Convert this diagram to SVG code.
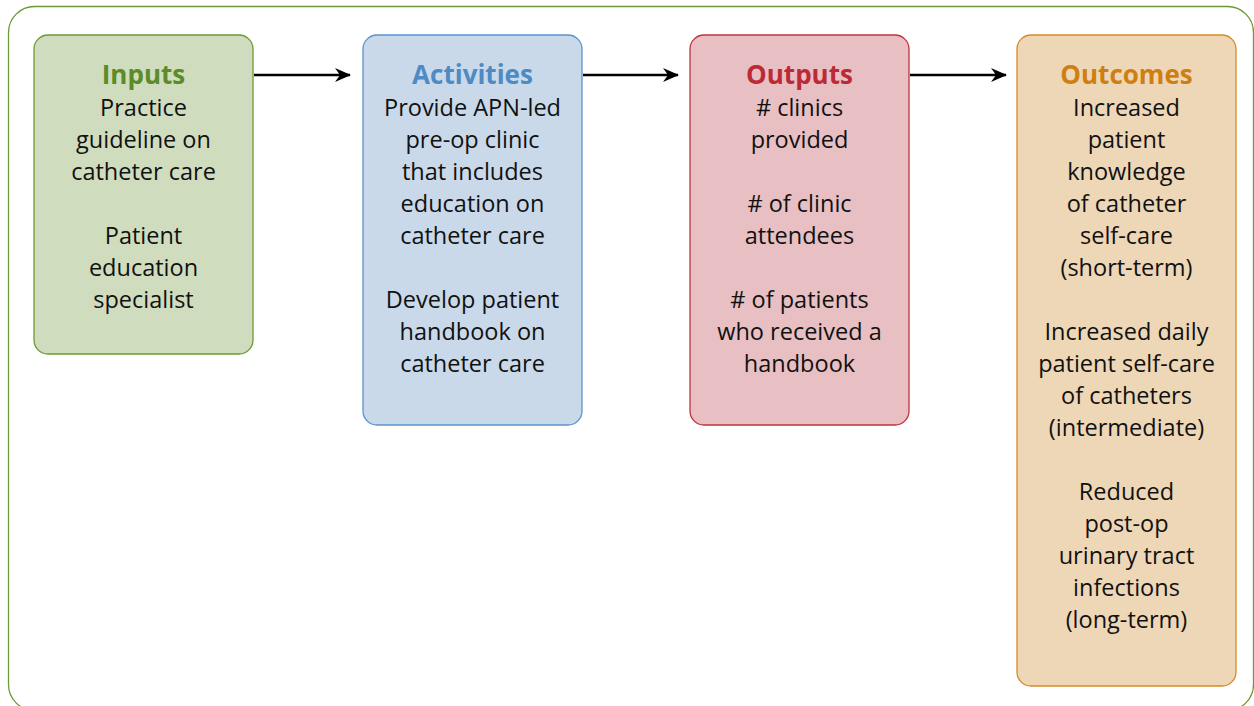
<svg xmlns="http://www.w3.org/2000/svg" width="1254" height="706" viewBox="0 0 1254 706">
<defs>
<marker id="ah" markerWidth="16" markerHeight="14" refX="15" refY="7" orient="auto" markerUnits="userSpaceOnUse">
<path d="M0,0 L16,7 L0,14 L5,7 Z" fill="#000"/>
</marker>
<style>
text{font-family:"Open Sans","Noto Sans",sans-serif;text-anchor:middle;}
.t{font-size:26px;font-weight:bold;}
.b{font-size:23.5px;fill:#111;}
.box{stroke-width:1.3;}
.conn line{stroke:#000;stroke-width:2.6;}
</style>
</defs>
<rect width="1254" height="706" fill="#fff"/>
<rect x="8.5" y="6.5" width="1245" height="704" rx="26" fill="none" stroke="#6b9a34" stroke-width="1.3"/>
<g id="inputs">
<rect class="box" x="34" y="35" width="219" height="319" rx="14" fill="#d0dcbe" stroke="#6b9a34"/>
<text class="t" x="143.5" y="84" fill="#5c8b27">Inputs</text>
<text class="b" x="143.5" y="116">Practice</text>
<text class="b" x="143.5" y="148">guideline on</text>
<text class="b" x="143.5" y="180">catheter care</text>
<text class="b" x="143.5" y="244">Patient</text>
<text class="b" x="143.5" y="276">education</text>
<text class="b" x="143.5" y="308">specialist</text>
</g>
<g id="activities">
<rect class="box" x="363" y="35" width="219" height="390" rx="14" fill="#c9d9ea" stroke="#5b93cb"/>
<text class="t" x="472.5" y="84" fill="#4e8ac3">Activities</text>
<text class="b" x="472.5" y="116">Provide APN-led</text>
<text class="b" x="472.5" y="148">pre-op clinic</text>
<text class="b" x="472.5" y="180">that includes</text>
<text class="b" x="472.5" y="212">education on</text>
<text class="b" x="472.5" y="244">catheter care</text>
<text class="b" x="472.5" y="308">Develop patient</text>
<text class="b" x="472.5" y="340">handbook on</text>
<text class="b" x="472.5" y="372">catheter care</text>
</g>
<g id="outputs">
<rect class="box" x="690" y="35" width="219" height="390" rx="14" fill="#e8bfc2" stroke="#c1323c"/>
<text class="t" x="799.5" y="84" fill="#bb2a35">Outputs</text>
<text class="b" x="799.5" y="116"># clinics</text>
<text class="b" x="799.5" y="148">provided</text>
<text class="b" x="799.5" y="212"># of clinic</text>
<text class="b" x="799.5" y="244">attendees</text>
<text class="b" x="799.5" y="308"># of patients</text>
<text class="b" x="799.5" y="340">who received a</text>
<text class="b" x="799.5" y="372">handbook</text>
</g>
<g id="outcomes">
<rect class="box" x="1017" y="35" width="219" height="651" rx="14" fill="#edd7b7" stroke="#d68a28"/>
<text class="t" x="1126.5" y="84" fill="#cf7e12">Outcomes</text>
<text class="b" x="1126.5" y="116">Increased</text>
<text class="b" x="1126.5" y="148">patient</text>
<text class="b" x="1126.5" y="180">knowledge</text>
<text class="b" x="1126.5" y="212">of catheter</text>
<text class="b" x="1126.5" y="244">self-care</text>
<text class="b" x="1126.5" y="276">(short-term)</text>
<text class="b" x="1126.5" y="340">Increased daily</text>
<text class="b" x="1126.5" y="372">patient self-care</text>
<text class="b" x="1126.5" y="404">of catheters</text>
<text class="b" x="1126.5" y="436">(intermediate)</text>
<text class="b" x="1126.5" y="500">Reduced</text>
<text class="b" x="1126.5" y="532">post-op</text>
<text class="b" x="1126.5" y="564">urinary tract</text>
<text class="b" x="1126.5" y="596">infections</text>
<text class="b" x="1126.5" y="628">(long-term)</text>
</g>
<g id="connectors" class="conn">
<line x1="254" y1="75" x2="350" y2="75" marker-end="url(#ah)"/>
<line x1="583" y1="75" x2="678" y2="75" marker-end="url(#ah)"/>
<line x1="910" y1="75" x2="1006" y2="75" marker-end="url(#ah)"/>
</g>
</svg>
